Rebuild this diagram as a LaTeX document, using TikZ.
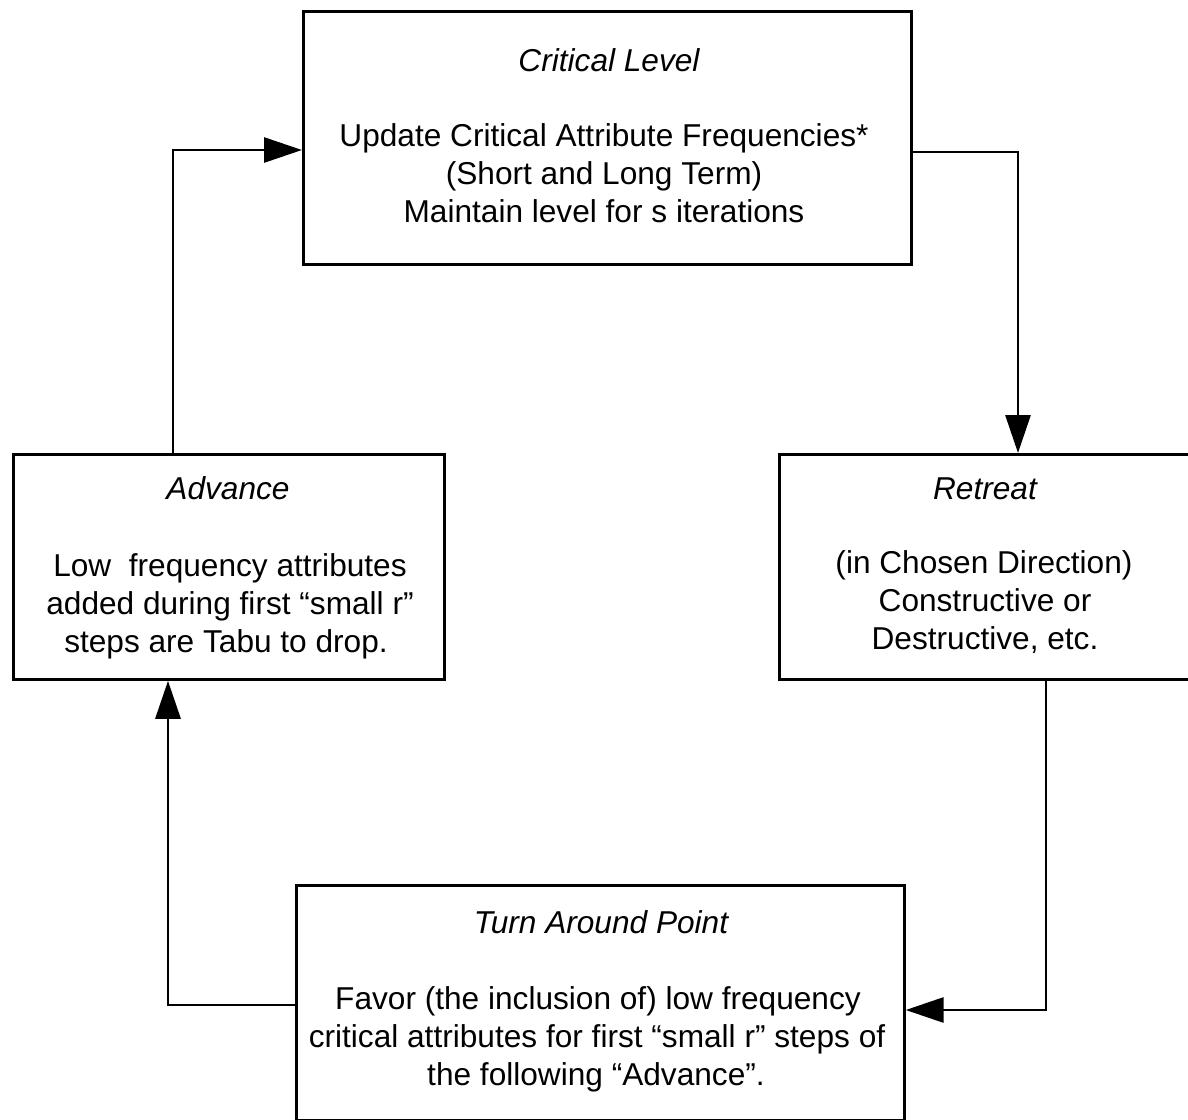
\documentclass[tikz,border=0pt]{standalone}
\usepackage{fontspec}
\setmainfont{Liberation Sans}
\usetikzlibrary{arrows.meta}
\begin{document}
\begin{tikzpicture}[x=0.02cm,y=-0.02cm,
  box/.style={draw,line width=1.6pt,inner sep=0pt,anchor=north west},
  txt/.style={anchor=base,inner sep=0pt,font=\fontsize{18}{21.6}\selectfont},
  ttl/.style={anchor=base,inner sep=0pt,font=\fontsize{18}{21.6}\selectfont\itshape},
  link/.style={line width=1.6pt,-{Triangle[length=0.76cm,width=0.5cm]}}]
\useasboundingbox (0,0) rectangle (1188,1120);
\clip (0,0) rectangle (1188,1120);

% the four stages
\node[box,minimum width=12.16cm,minimum height=5.06cm] (crit) at (302,10) {};
\node[box,minimum width=8.62cm,minimum height=4.5cm] (adv) at (12,453) {};
\node[box,minimum width=8.6cm,minimum height=4.5cm] (ret) at (778,453) {};
\node[box,minimum width=12.16cm,minimum height=4.7cm] (turn) at (295,884) {};

% Critical Level
\node[ttl] (critT) at (609,71) {Critical Level};
\node[txt] (crit1) at (604,146) {Update Critical Attribute Frequencies*};
\node[txt] (crit2) at (604,184) {(Short and Long Term)};
\node[txt] (crit3) at (604,222) {Maintain level for s iterations};

% Advance
\node[ttl] (advT) at (228,499) {Advance};
\node[txt] (adv1) at (230,576) {Low\ \ frequency attributes};
\node[txt] (adv2) at (230,614) {added during first “small r”};
\node[txt] (adv3) at (226,652) {steps are Tabu to drop.};

% Retreat
\node[ttl] (retT) at (985,499) {Retreat};
\node[txt] (ret1) at (984,573) {(in Chosen Direction)};
\node[txt] (ret2) at (985,611) {Constructive or};
\node[txt] (ret3) at (985,649) {Destructive, etc.};

% Turn Around Point
\node[ttl] (turnT) at (601,933) {Turn Around Point};
\node[txt] (turn1) at (598,1009) {Favor (the inclusion of) low frequency};
\node[txt] (turn2) at (597,1047) {critical attributes for first “small r” steps of};
\node[txt] (turn3) at (596,1085) {the following “Advance”.};

% the cycle
\coordinate (a1) at (173,150);
\coordinate (c1) at (1018,152);
\coordinate (r1) at (1046,1010);
\coordinate (t1) at (168,1005);
\draw[link] (adv.north -| a1) |- (crit.west |- a1);
\draw[link] (crit.east |- c1) -| (ret.north -| c1);
\draw[link] (ret.south -| r1) |- (turn.east |- r1);
\draw[link] (turn.west |- t1) -| (adv.south -| t1);
\end{tikzpicture}
\end{document}
